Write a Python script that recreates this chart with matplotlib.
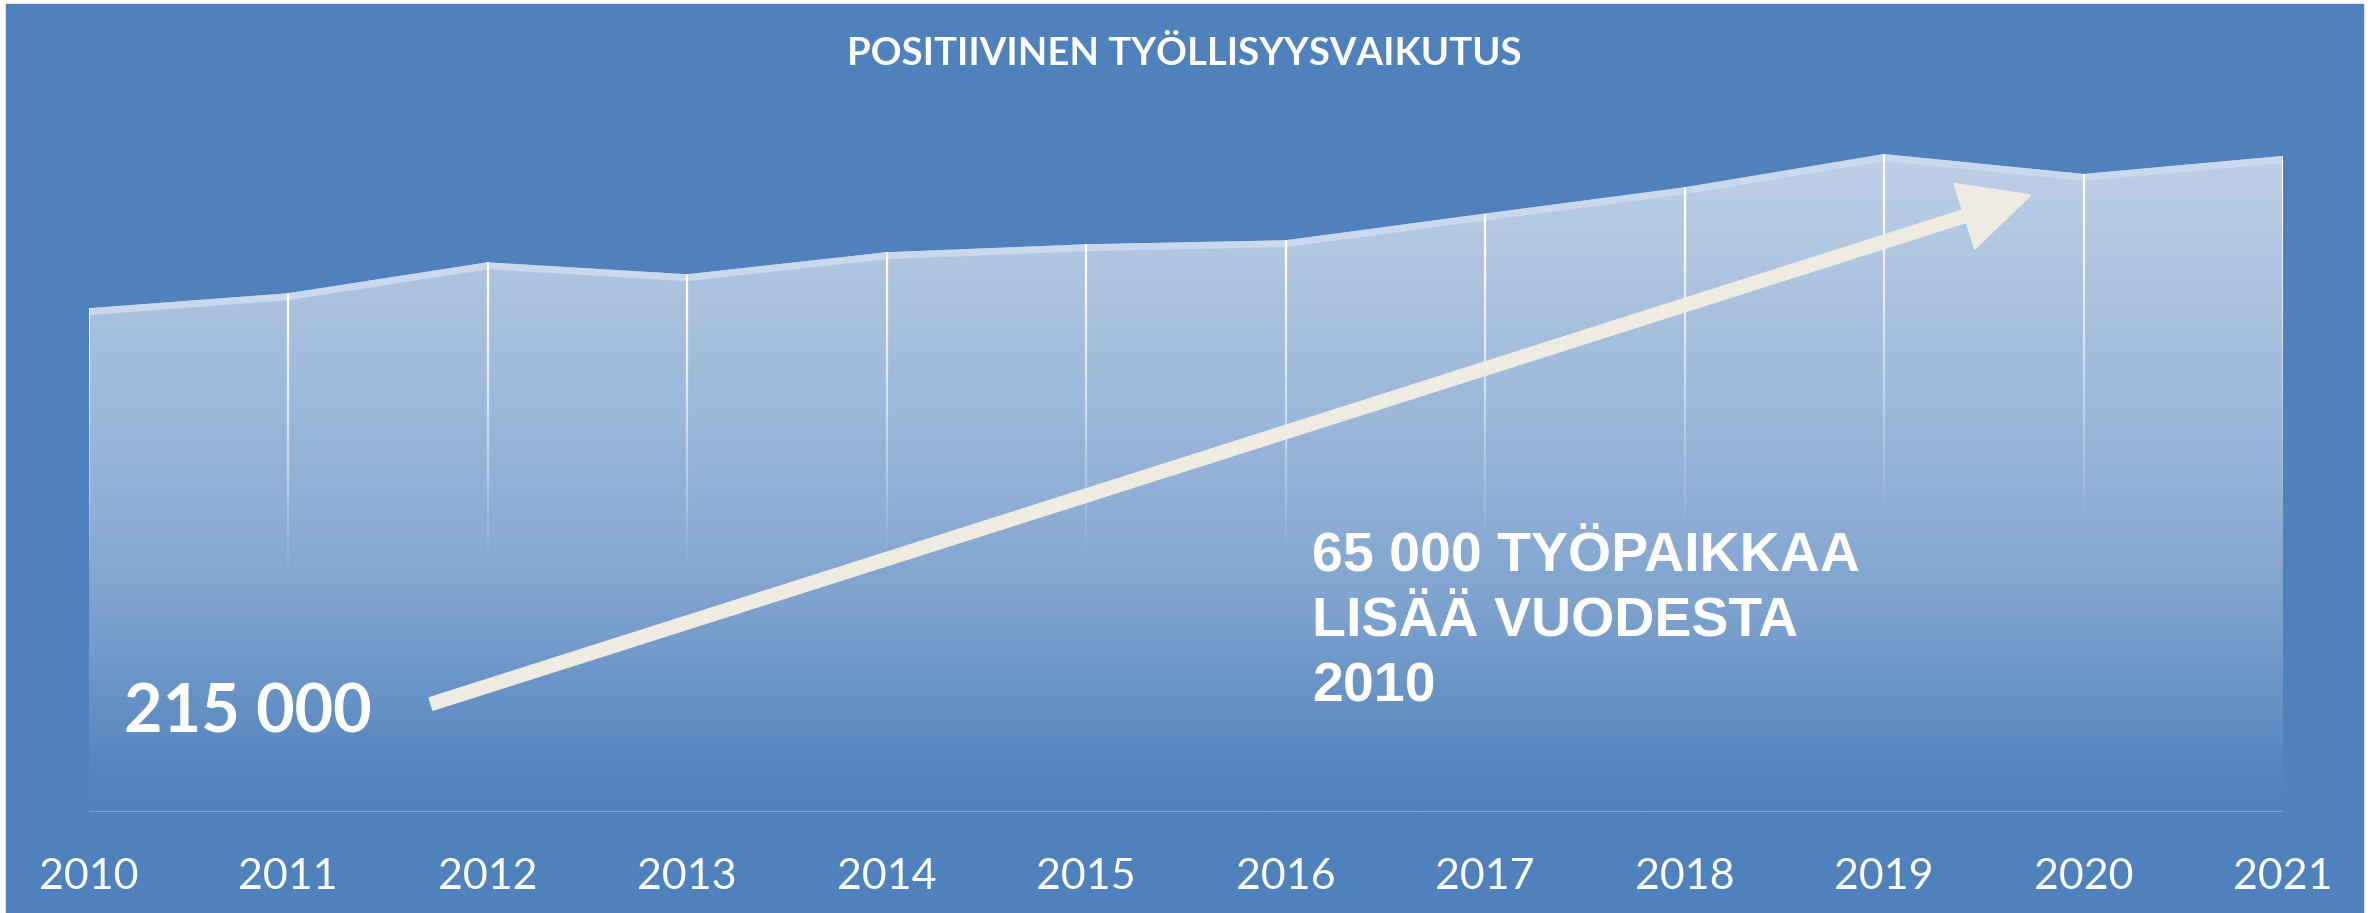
import numpy as np
import matplotlib
matplotlib.use("Agg")
import matplotlib.pyplot as plt
from matplotlib.patches import Rectangle, Polygon, FancyArrow
from matplotlib.collections import LineCollection
from matplotlib.colors import LinearSegmentedColormap
from matplotlib.transforms import offset_copy, IdentityTransform

# data
vuodet = [2010, 2011, 2012, 2013, 2014, 2015, 2016, 2017, 2018, 2019, 2020, 2021]
tyolliset = [215000, 221400, 234600, 229500, 238900, 242300, 244000,
             255400, 266600, 280800, 272300, 280000]
otsikko = "POSITIIVINEN TYÖLLISYYSVAIKUTUS"
alku_teksti = "215 000"
lisays_teksti = "65 000 TYÖPAIKKAA\nLISÄÄ VUODESTA\n2010"

W, H = 2374, 913
tausta = "#4f81bd"

fig = plt.figure(figsize=(W / 100, H / 100), dpi=100, facecolor="white")

# sininen tausta
fig.add_artist(Rectangle((6 / W, 0), (2363 - 6) / W, (H - 4) / H,
                         transform=fig.transFigure, color=tausta, zorder=-1))

ax = fig.add_axes([88.5 / W, (H - 812) / H, (2283 - 88.5) / W, 749.8 / H])
ax.patch.set_visible(False)
ax.set_xlim(vuodet[0], vuodet[-1])
ax.set_ylim(0, 320000)
ax.axis("off")

# liukuväritäyttö viivan alle
vari = LinearSegmentedColormap.from_list("tayte", [
    (0.0, (79 / 255, 129 / 255, 189 / 255)),
    (0.05, (83 / 255, 132 / 255, 191 / 255)),
    (0.32, (127 / 255, 163 / 255, 207 / 255)),
    (0.5, (147 / 255, 177 / 255, 215 / 255)),
    (0.95, (185 / 255, 204 / 255, 228 / 255)),
    (1.0, (190 / 255, 207 / 255, 231 / 255)),
])
ylin = 290000
grad = np.clip(np.linspace(0, ylin, 400) / 280000, 0, 1)[:, None]
kuva = ax.imshow(grad, extent=[vuodet[0], vuodet[-1], 0, ylin], origin="lower",
                 aspect="auto", cmap=vari, vmin=0, vmax=1, zorder=1)
reunat = [(vuodet[0], 0)] + list(zip(vuodet, tyolliset)) + [(vuodet[-1], 0)]
alue = Polygon(reunat, closed=True, facecolor="none", edgecolor="none")
ax.add_patch(alue)
kuva.set_clip_path(alue)

# vaalea nauha yläreunassa
siirto = offset_copy(ax.transData, fig=fig, x=0, y=-3.5, units="dots")
ax.plot(vuodet, tyolliset, color="#c9d8ec", lw=5, transform=siirto,
        solid_joinstyle="miter", solid_capstyle="butt", zorder=2)

# pohjaviiva
ax.plot([vuodet[0], vuodet[-1]], [0, 0], color="#7ea3d3", lw=1.5, zorder=2)

# haalistuvat pystyviivat
palat = []
varit = []
for v, arvo in zip(vuodet, tyolliset):
    ys = np.linspace(arvo, 0, 80)
    for i in range(len(ys) - 1):
        palat.append([(v, ys[i]), (v, ys[i + 1])])
        osuus = (ys[i] + ys[i + 1]) / 2 / arvo
        a = np.clip((osuus - 0.45) / 0.5, 0, 1)
        varit.append((1, 1, 1, a))
ax.add_collection(LineCollection(palat, colors=varit, linewidths=1.6, zorder=3))

# vuosiluvut
for v in vuodet:
    ax.text(v, (812 - 889) / 749.8, str(v), transform=ax.get_xaxis_transform(),
            ha="center", va="baseline", color="white", fontsize=31,
            family="Lato", clip_on=False)

# otsikko
fig.text(1184 / W, 1 - 65 / H, otsikko, ha="center", va="baseline",
         color="white", fontsize=27.5, fontweight="bold", family="Lato")

# nuoli
fig.add_artist(FancyArrow(431, H - 704, 1600, 509, width=13, head_width=69,
                          head_length=70, length_includes_head=True,
                          color="#eeece1", transform=IdentityTransform(),
                          zorder=5))

fig.text(248 / W, 1 - 732 / H, alku_teksti, ha="center", va="baseline",
         color="white", fontsize=48, fontweight="bold", family="Lato", zorder=6)

# monirivisen tekstin baseline = viimeinen rivi
fig.text(1312 / W, 1 - 701 / H, lisays_teksti, ha="left", va="baseline",
         color="white", fontsize=40, fontweight="bold",
         family="Liberation Sans", linespacing=1.33, zorder=6)

fig.savefig("out.png", dpi=100, facecolor="white")
